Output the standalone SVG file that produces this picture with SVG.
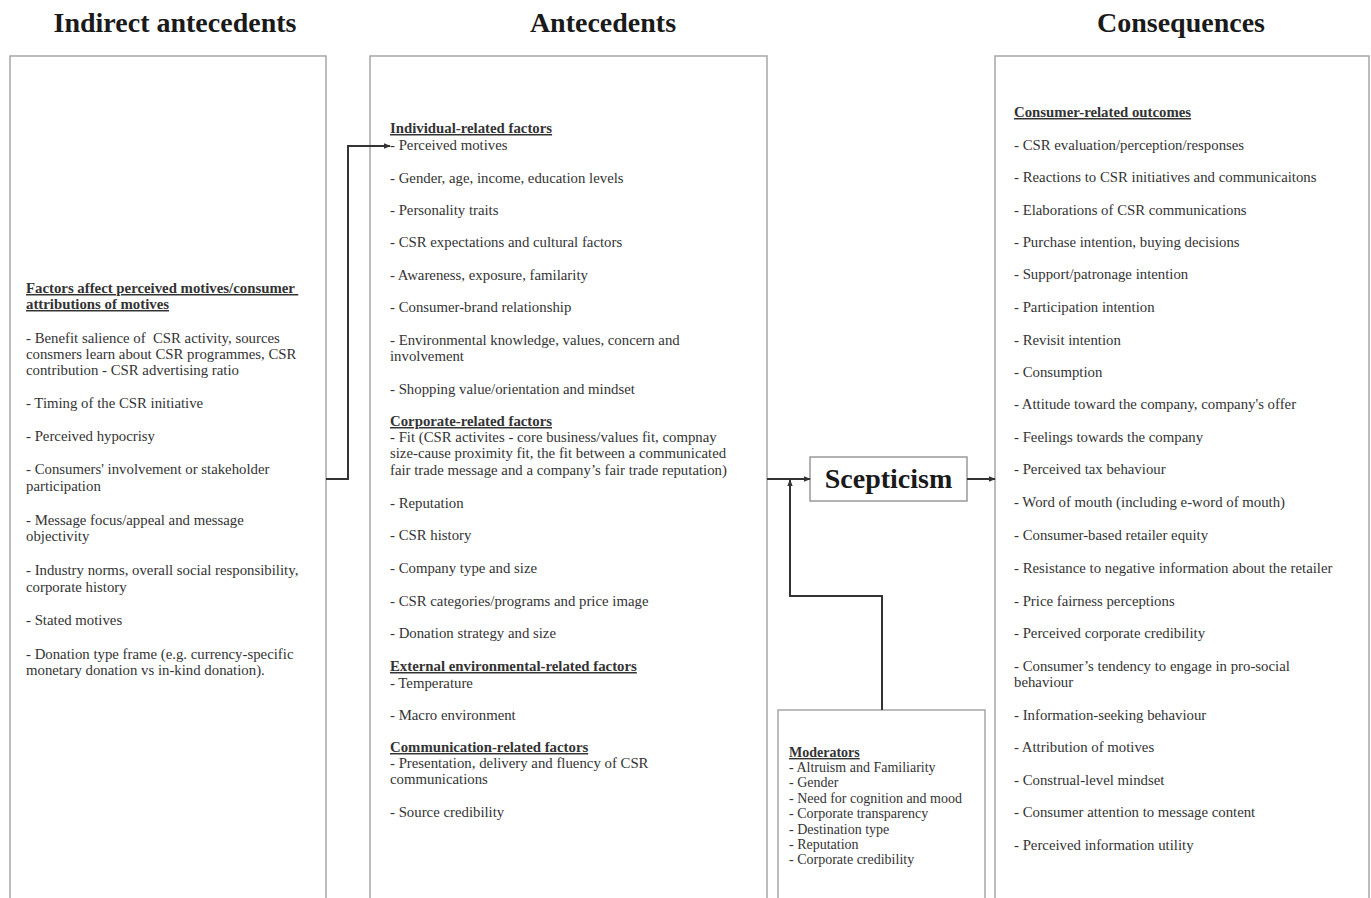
<svg xmlns="http://www.w3.org/2000/svg" width="1371" height="898" viewBox="0 0 1371 898">
<defs>
<marker id="arr" viewBox="0 0 10 10" refX="9" refY="5" markerWidth="7" markerHeight="7" markerUnits="userSpaceOnUse" orient="auto"><path d="M0,1 L10,5 L0,9 z" fill="#333"/></marker>
<style>
.box{fill:#fff;stroke:#a6a6a6;stroke-width:1.5}
.title{font-family:"Liberation Serif","Times New Roman",serif;font-weight:bold;font-size:28px;fill:#1a1a1a;text-anchor:middle}
.t{font-family:"Liberation Serif","Times New Roman",serif;font-size:14.8px;fill:#333}
.h{font-weight:bold;text-decoration:underline}
.m{font-family:"Liberation Serif","Times New Roman",serif;font-size:14px;fill:#333}
.con{fill:none;stroke:#333;stroke-width:2}
</style>
</defs>
<rect width="1371" height="898" fill="#fff"/>
<g id="titles">
<text class="title" x="175" y="32">Indirect antecedents</text>
<text class="title" x="603" y="32">Antecedents</text>
<text class="title" x="1181" y="32">Consequences</text>
</g>
<g id="indirect">
<rect class="box" x="10" y="56" width="316" height="850"/>
<text class="t"><tspan class="h" x="26" y="293">Factors affect perceived motives/consumer </tspan><tspan class="h" x="26" y="309">attributions of motives</tspan><tspan x="26" y="343">- Benefit salience of &#160;CSR activity, sources</tspan><tspan x="26" y="359">consmers learn about CSR programmes, CSR</tspan><tspan x="26" y="375">contribution - CSR advertising ratio</tspan><tspan x="26" y="408">- Timing of the CSR initiative</tspan><tspan x="26" y="441">- Perceived hypocrisy</tspan><tspan x="26" y="474">- Consumers' involvement or stakeholder</tspan><tspan x="26" y="491">participation</tspan><tspan x="26" y="525">- Message focus/appeal and message</tspan><tspan x="26" y="541">objectivity</tspan><tspan x="26" y="575">- Industry norms, overall social responsibility,</tspan><tspan x="26" y="592">corporate history</tspan><tspan x="26" y="625">- Stated motives</tspan><tspan x="26" y="659">- Donation type frame (e.g. currency-specific</tspan><tspan x="26" y="675">monetary donation vs in-kind donation).</tspan></text>
</g>
<g id="antecedents">
<rect class="box" x="370" y="56" width="397" height="850"/>
<text class="t"><tspan class="h" x="390" y="133">Individual-related factors</tspan><tspan x="390" y="150">- Perceived motives</tspan><tspan x="390" y="183">- Gender, age, income, education levels</tspan><tspan x="390" y="215">- Personality traits</tspan><tspan x="390" y="247">- CSR expectations and cultural factors</tspan><tspan x="390" y="280">- Awareness, exposure, familarity</tspan><tspan x="390" y="312">- Consumer-brand relationship</tspan><tspan x="390" y="345">- Environmental knowledge, values, concern and</tspan><tspan x="390" y="361">involvement</tspan><tspan x="390" y="394">- Shopping value/orientation and mindset</tspan><tspan class="h" x="390" y="426">Corporate-related factors</tspan><tspan x="390" y="442">- Fit (CSR activites - core business/values fit, compnay</tspan><tspan x="390" y="458">size-cause proximity fit, the fit between a communicated</tspan><tspan x="390" y="475">fair trade message and a company’s fair trade reputation)</tspan><tspan x="390" y="508">- Reputation</tspan><tspan x="390" y="540">- CSR history</tspan><tspan x="390" y="573">- Company type and size</tspan><tspan x="390" y="606">- CSR categories/programs and price image</tspan><tspan x="390" y="638">- Donation strategy and size</tspan><tspan class="h" x="390" y="671">External environmental-related factors</tspan><tspan x="390" y="688">- Temperature</tspan><tspan x="390" y="720">- Macro environment</tspan><tspan class="h" x="390" y="752">Communication-related factors</tspan><tspan x="390" y="768">- Presentation, delivery and fluency of CSR</tspan><tspan x="390" y="784">communications</tspan><tspan x="390" y="817">- Source credibility</tspan></text>
</g>
<g id="scepticism">
<rect x="810" y="457" width="157" height="44" fill="#fff" stroke="#999" stroke-width="1.5"/>
<text class="title" x="888.5" y="488">Scepticism</text>
</g>
<g id="moderators">
<rect class="box" x="778" y="710" width="207" height="196"/>
<text class="m"><tspan class="h" x="789" y="757">Moderators</tspan><tspan x="789" y="772">- Altruism and Familiarity</tspan><tspan x="789" y="787">- Gender</tspan><tspan x="789" y="803">- Need for cognition and mood</tspan><tspan x="789" y="818">- Corporate transparency</tspan><tspan x="789" y="834">- Destination type</tspan><tspan x="789" y="849">- Reputation</tspan><tspan x="789" y="864">- Corporate credibility</tspan></text>
</g>
<g id="consequences">
<rect class="box" x="995" y="56" width="374" height="850"/>
<text class="t"><tspan class="h" x="1014" y="117">Consumer-related outcomes</tspan><tspan x="1014" y="150">- CSR evaluation/perception/responses</tspan><tspan x="1014" y="182">- Reactions to CSR initiatives and communicaitons</tspan><tspan x="1014" y="215">- Elaborations of CSR communications</tspan><tspan x="1014" y="247">- Purchase intention, buying decisions</tspan><tspan x="1014" y="279">- Support/patronage intention</tspan><tspan x="1014" y="312">- Participation intention</tspan><tspan x="1014" y="345">- Revisit intention</tspan><tspan x="1014" y="377">- Consumption</tspan><tspan x="1014" y="409">- Attitude toward the company, company's offer</tspan><tspan x="1014" y="442">- Feelings towards the company</tspan><tspan x="1014" y="474">- Perceived tax behaviour</tspan><tspan x="1014" y="507">- Word of mouth (including e-word of mouth)</tspan><tspan x="1014" y="540">- Consumer-based retailer equity</tspan><tspan x="1014" y="573">- Resistance to negative information about the retailer</tspan><tspan x="1014" y="606">- Price fairness perceptions</tspan><tspan x="1014" y="638">- Perceived corporate credibility</tspan><tspan x="1014" y="671">- Consumer’s tendency to engage in pro-social</tspan><tspan x="1014" y="687">behaviour</tspan><tspan x="1014" y="720">- Information-seeking behaviour</tspan><tspan x="1014" y="752">- Attribution of motives</tspan><tspan x="1014" y="785">- Construal-level mindset</tspan><tspan x="1014" y="817">- Consumer attention to message content</tspan><tspan x="1014" y="850">- Perceived information utility</tspan></text>
</g>
<g id="connectors">
<path class="con" d="M326,479 H348 V146 H390" marker-end="url(#arr)"/>
<path class="con" d="M767,479 H810" marker-end="url(#arr)"/>
<path class="con" d="M967,479 H995" marker-end="url(#arr)"/>
<path class="con" d="M882,710 V596 H790 V480" marker-end="url(#arr)"/>
</g>
</svg>
